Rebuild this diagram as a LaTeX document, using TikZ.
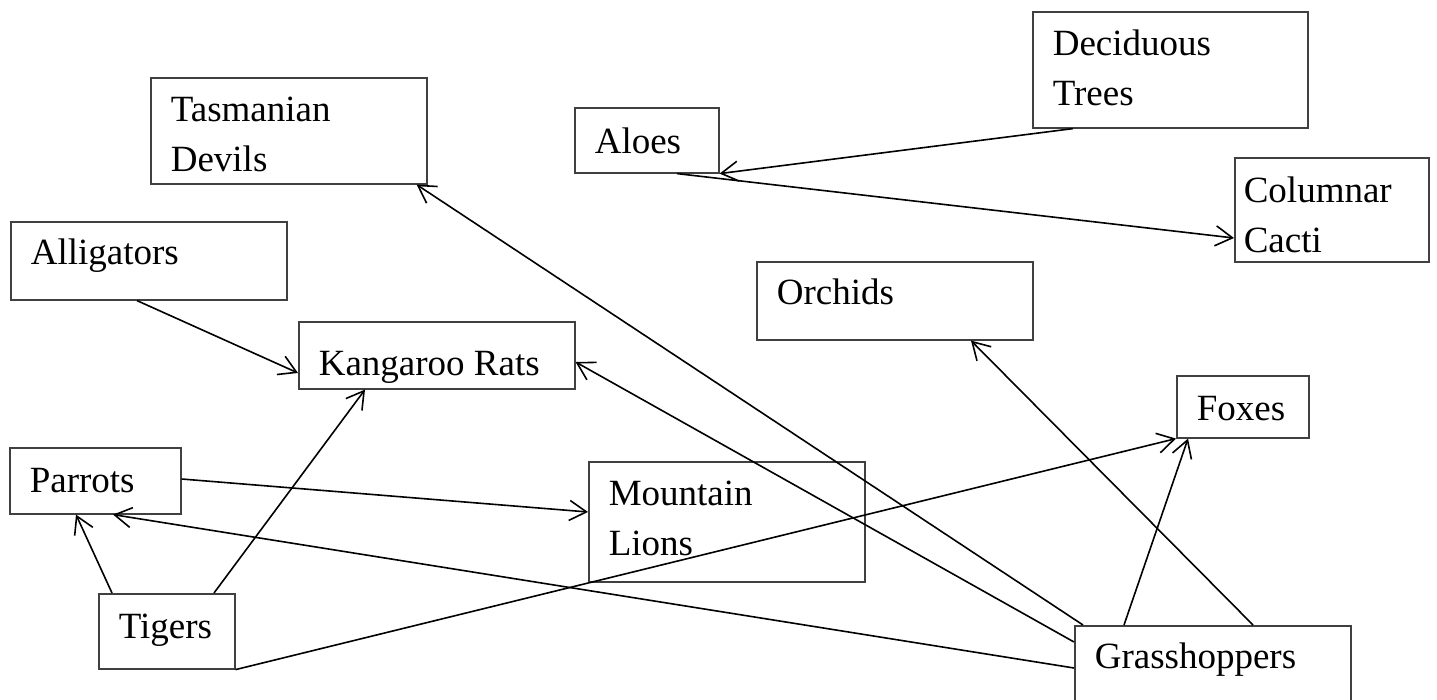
\documentclass[tikz,border=0pt]{standalone}
\usepackage{fontspec}
\setmainfont{Liberation Serif}
\usepackage{tikz}
\usetikzlibrary{arrows.meta}
\definecolor{boxgray}{RGB}{64,64,64}

\begin{document}
\begin{tikzpicture}[x=1pt,y=-1pt,
	animal/.style={rectangle,draw=boxgray,line width=1.6pt,anchor=north west,
		align=flush left,inner xsep=20pt,inner ysep=0pt,text height=44pt,
		font=\fontsize{37}{49.5}\selectfont},
	link/.style={-{Straight Barb[length=17pt,width=20pt]},line width=1.6pt},
	]
	\useasboundingbox (0,0) rectangle (1437,700);
	% boxes
	\node[animal,text width=236pt,text depth=62pt] (tas) at (150,77) {Tasmanian\\Devils};
	\node[animal,text width=235pt,text depth=72pt] (dec) at (1032,11) {Deciduous\\Trees};
	\node[animal,text width=104pt,text height=46pt,text depth=19pt] (aloe) at (574,107) {Aloes};
	\node[animal,inner xsep=9pt,text width=176pt,text height=45pt,text depth=59pt] (cac) at (1234,157) {Columnar\\Cacti};
	\node[animal,text width=236pt,text height=43pt,text depth=35pt] (all) at (10,221) {Alligators};
	\node[animal,text width=236pt,text height=43pt,text depth=35pt] (orc) at (756,261) {Orchids};
	\node[animal,text width=236pt,text height=54pt,text depth=13pt] (kan) at (298,321) {Kangaroo Rats};
	\node[animal,text width=92pt,text height=45pt,text depth=17pt] (fox) at (1176,375) {Foxes};
	\node[animal,text width=131pt,text height=45pt,text depth=21pt] (par) at (9,447) {Parrots};
	\node[animal,text width=236pt,text depth=76pt] (mtn) at (588,461) {Mountain\\Lions};
	\node[animal,text width=96pt,text height=45pt,text depth=30pt] (tig) at (98,593) {Tigers};
	\node[animal,text width=236pt,text height=43pt,text depth=57pt] (gra) at (1074,625) {Grasshoppers};
	% who eats whom
	\draw[link] ([xshift=41pt]dec.south west) -- (aloe.south east);
	\draw[link] ([xshift=103pt]aloe.south west) -- ([yshift=-81pt]cac.north west);
	\draw[link] ([xshift=127pt]all.south west) -- ([yshift=-52pt]kan.north west);
	\draw[link] ([xshift=116pt]tig.north west) -- ([xshift=67pt]kan.south west);
	\draw[link] ([xshift=14pt]tig.north west) -- ([xshift=67pt]par.south west);
	\draw[link] ([yshift=-32pt]par.north east) -- ([yshift=-51pt]mtn.north west);
	\draw[link] (tig.south east) -- (fox.south west);
	\draw[link] ([xshift=9pt]gra.north west) -- ([xshift=-11pt]tas.south east);
	\draw[link] ([yshift=-17pt]gra.north west) -- ([yshift=-41pt]kan.north east);
	\draw[link] ([yshift=-43pt]gra.north west) -- ([xshift=104pt]par.south west);
	\draw[link] ([xshift=50pt]gra.north west) -- ([xshift=12pt]fox.south west);
	\draw[link] ([xshift=179pt]gra.north west) -- ([xshift=215pt]orc.south west);
\end{tikzpicture}
\end{document}
